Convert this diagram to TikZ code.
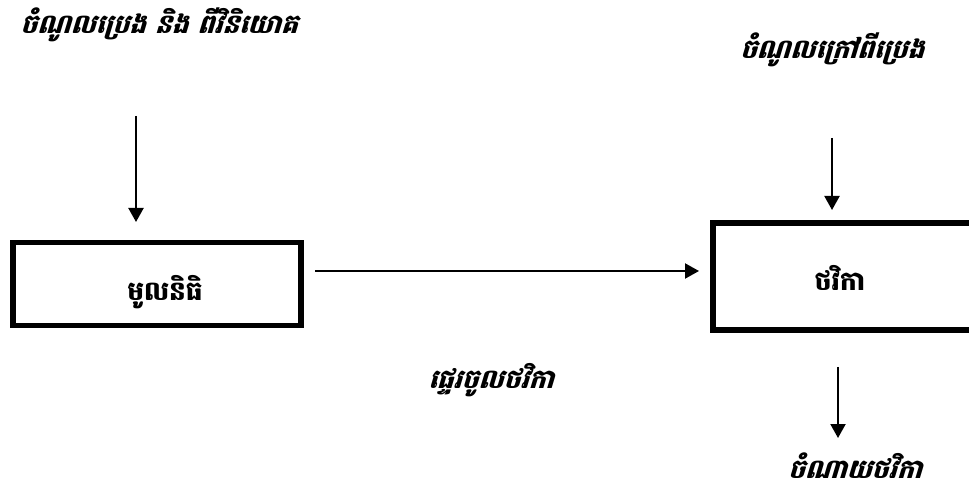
\documentclass[tikz,border=0pt]{standalone}
\usepackage{fontspec}
\newfontfamily\khmer[Script=Khmer]{Battambang}
\newfontfamily\khmerit[Script=Khmer, FakeSlant=0.3]{Battambang}
\usetikzlibrary{arrows.meta, positioning}

\begin{document}
\begin{tikzpicture}[x=0.02cm, y=-0.02cm,
    box/.style={rectangle, draw=black, line width=3.2pt, fill=white, inner sep=0pt},
    boxtext/.style={font=\khmer\bfseries\fontsize{15}{17}\selectfont, inner sep=0pt},
    lbl/.style={font=\khmerit\bfseries\fontsize{15}{18}\selectfont, inner sep=0pt},
    arr/.style={-{Triangle[length=0.28cm, width=0.3cm]}, line width=1.2pt}
]
\useasboundingbox (0,0) rectangle (969,492);
% boxes
\node[box, minimum width=5.76cm, minimum height=1.66cm] (fund) at (157,284) {};
\node[box, minimum width=5.4cm, minimum height=2.14cm] (budget) at (848,276.5) {};
\node[boxtext] (fundtxt) at (165,292) {មូលនិធិ};
\node[boxtext] (budgettxt) at (840,278) {ថវិកា};
% labels
\node[lbl] (oil) at (159,25) {ចំណូលប្រេង និង ពីវិនិយោគ};
\node[lbl] (nonoil) at (832,50) {ចំណូលក្រៅពីប្រេង};
\node[lbl] (transfer) at (491,380) {ផ្ទេរចូលថវិកា};
\node[lbl] (spend) at (855,466) {ចំណាយថវិកា};
% arrow ends
\coordinate (oilend) at (136,116);
\coordinate (fundtop) at (136,222);
\coordinate (fundright) at (315,271);
\coordinate (budgetleft) at (699,271);
\coordinate (nonoilend) at (832,138);
\coordinate (budgettop) at (832,210);
\coordinate (spendtop) at (838,367);
\coordinate (spendend) at (838,438);

\foreach \i/\j in {oilend/fundtop, fundright/budgetleft, nonoilend/budgettop, spendtop/spendend}
    \draw[arr] (\i) -- (\j);
\end{tikzpicture}
\end{document}
